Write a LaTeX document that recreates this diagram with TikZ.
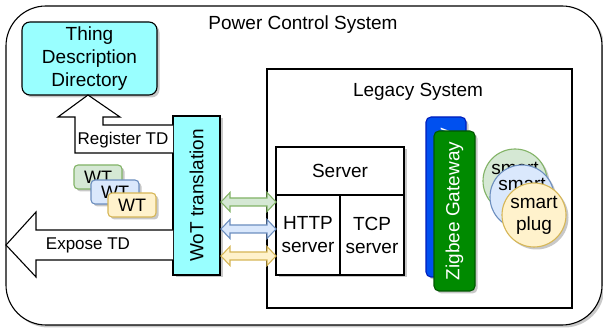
\documentclass[tikz,border=0pt]{standalone}
\usepackage{fontspec}
\setmainfont{Liberation Sans}
\usetikzlibrary{shadows}
\definecolor{cyanF}{HTML}{99FFFF}
\definecolor{greenF}{HTML}{D5E8D4}
\definecolor{greenD}{HTML}{82B366}
\definecolor{blueF}{HTML}{DAE8FC}
\definecolor{blueD}{HTML}{6C8EBF}
\definecolor{yellF}{HTML}{FFF2CC}
\definecolor{yellD}{HTML}{D6B656}
\definecolor{zbBlue}{HTML}{0050EF}
\definecolor{zbBlueD}{HTML}{001DBC}
\definecolor{zbGreen}{HTML}{008A00}
\definecolor{zbGreenD}{HTML}{005700}
\begin{document}
\begin{tikzpicture}[x=1pt,y=-1pt,
  font=\fontsize{19}{23}\selectfont,
  sh/.style={drop shadow={shadow xshift=2.5pt,shadow yshift=-2.5pt,opacity=0.3,fill=black!70}},
  box/.style={draw=black,line width=1.1pt,inner sep=0pt,align=center},
  plug/.style={circle,line width=1.1pt,inner sep=0pt,minimum size=64pt,align=center,sh,
    font=\fontsize{19}{22}\selectfont},
  wt/.style={rectangle,rounded corners=4pt,line width=1.1pt,minimum width=48pt,minimum height=24pt,
    inner sep=0pt,sh,font=\fontsize{18}{20}\selectfont},
  dbl/.style={line width=1.1pt},
  blockarrow/.style={draw=black,fill=white,line width=1.1pt},
  lbl/.style={font=\fontsize{17}{20}\selectfont,inner sep=0pt}
]
\useasboundingbox (0,0) rectangle (603,331);

% outer container
\node[box,rectangle,rounded corners=40pt,minimum width=596pt,minimum height=319pt,sh,fill=white]
  (pcs) at (304,165.5) {};
\node (pcstitle) at (303,25) {Power Control System};

% legacy system
\node[box,rectangle,minimum width=305pt,minimum height=239pt,fill=white] (legacy) at (419.5,188.5) {};
\node (legacytitle) at (418,92) {Legacy System};

% server
\node[box,rectangle,minimum width=128pt,minimum height=128pt,fill=white,sh] (srv) at (340,211) {};
\node[box,rectangle,minimum width=128pt,minimum height=48pt] (srvhead) at (340,171) {Server};
\node[box,rectangle,minimum width=64pt,minimum height=80pt] (http) at (308,235) {HTTP\\server};
\node[box,rectangle,minimum width=64pt,minimum height=80pt] (tcp) at (372,235) {TCP\\server};

% zigbee gateways
\node[box,draw=zbBlueD,fill=zbBlue,text=white,rounded corners=5pt,rotate=90,
  minimum width=160pt,minimum height=40pt,sh] (zb1) at (446,197) {Zigbee Gateway};
\node[box,draw=zbGreenD,fill=zbGreen,text=white,rounded corners=5pt,rotate=90,
  minimum width=160pt,minimum height=41pt,sh] (zb2) at (454.5,211) {Zigbee Gateway};

% smart plugs
\node[plug,draw=greenD,fill=greenF] (sp1) at (515,181) {smart\\plug};
\node[plug,draw=blueD,fill=blueF] (sp2) at (522,197) {smart\\plug};
\node[plug,draw=yellD,fill=yellF] (sp3) at (534,215) {smart\\plug};

% WoT translation
\node[box,fill=cyanF,rotate=90,minimum width=159pt,minimum height=47pt,sh] (wot) at (196.5,195.5) {WoT translation};

% Thing Description Directory
\node[box,fill=cyanF,rounded corners=8pt,minimum width=135pt,minimum height=73pt,sh] (tdd) at (89.5,58.5)
  {Thing\\Description\\Directory};

% Register TD block arrow (elbow)
\draw[blockarrow] (173,125) -- (103,125) -- (103,117) -- (120,117) -- (88,95) -- (58,117) -- (75,117)
  -- (75,153) -- (173,153);
\node[lbl] (reglbl) at (123,140) {Register TD};

% Expose TD block arrow
\draw[blockarrow] (173,230) -- (36,230) -- (36,212) -- (6,245) -- (36,277) -- (36,260) -- (173,260);
\node[lbl] (explbl) at (88,245) {Expose TD};

% double arrows between WoT translation and HTTP server
\foreach \c/\f/\d in {202/greenF/greenD, 229/blueF/blueD, 256/yellF/yellD}{
  \draw[dbl,draw=\d,fill=\f] (221,\c) -- (230,\c-9.5) -- (230,\c-4) -- (267,\c-4) -- (267,\c-9.5)
    -- (276,\c) -- (267,\c+9.5) -- (267,\c+4) -- (230,\c+4) -- (230,\c+9.5) -- cycle;
}

% WT boxes
\node[wt,draw=greenD,fill=greenF] (wt1) at (98,177) {WT};
\node[wt,draw=blueD,fill=blueF] (wt2) at (115,192) {WT};
\node[wt,draw=yellD,fill=yellF] (wt3) at (132,205) {WT};
\end{tikzpicture}
\end{document}
